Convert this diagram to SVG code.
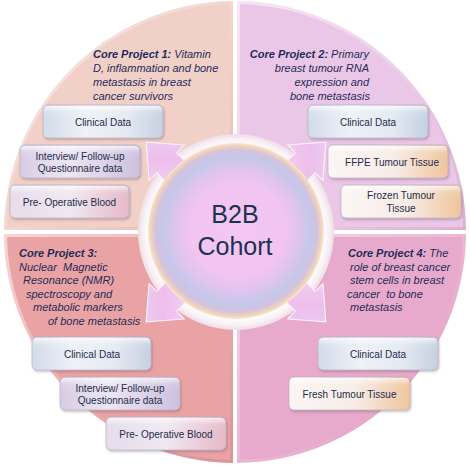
<svg xmlns="http://www.w3.org/2000/svg" width="470" height="467" viewBox="0 0 470 467">
<defs>
<style>
.t{font-family:"Liberation Sans",Arial,sans-serif;font-style:italic;font-size:11px;fill:#1f2c58;white-space:pre}
.t .b{font-weight:bold}
.bx{font-family:"Liberation Sans",Arial,sans-serif;font-size:10px;fill:#1f2c4c;text-anchor:middle}
.c{font-family:"Liberation Sans",Arial,sans-serif;font-size:25px;fill:#1d3152;text-anchor:middle}
.bev{fill:none;stroke:url(#bevel);stroke-width:6}
.box{stroke:#b9b2c6;stroke-width:0.7;filter:url(#sh)}
.hl{fill:url(#gloss)}
.arr{fill:url(#ag);stroke:#fbeefa;stroke-width:1.2;stroke-linejoin:round}
</style>
<filter id="sh" x="-10%" y="-20%" width="125%" height="150%">
<feDropShadow dx="1" dy="1.5" stdDeviation="1.2" flood-color="#5a4050" flood-opacity="0.35"/>
</filter>
<linearGradient id="bevel" x1="0" y1="0" x2="1" y2="1">
<stop offset="0" stop-color="#fff" stop-opacity="0.55"/>
<stop offset="0.5" stop-color="#fff" stop-opacity="0.15"/>
<stop offset="1" stop-color="#804050" stop-opacity="0.15"/>
</linearGradient>
<linearGradient id="gloss" x1="0" y1="0" x2="0" y2="1">
<stop offset="0" stop-color="#fff" stop-opacity="0.7"/>
<stop offset="0.45" stop-color="#fff" stop-opacity="0.1"/>
<stop offset="1" stop-color="#fff" stop-opacity="0"/>
</linearGradient>
<linearGradient id="gClin" x1="0" y1="0" x2="1" y2="0">
<stop offset="0" stop-color="#d3dbea"/>
<stop offset="0.35" stop-color="#eef1f7"/>
<stop offset="0.7" stop-color="#e4e9f2"/>
<stop offset="1" stop-color="#c6d0e2"/>
</linearGradient>
<linearGradient id="gInt" x1="0" y1="0" x2="1" y2="0">
<stop offset="0" stop-color="#d8cce4"/>
<stop offset="0.4" stop-color="#ece6f2"/>
<stop offset="1" stop-color="#cdc0de"/>
</linearGradient>
<linearGradient id="gPre" x1="0" y1="0" x2="1" y2="0">
<stop offset="0" stop-color="#e6dceb"/>
<stop offset="0.5" stop-color="#efe8f1"/>
<stop offset="1" stop-color="#e6b8c8"/>
</linearGradient>
<linearGradient id="gTis" x1="0" y1="0" x2="1" y2="0">
<stop offset="0" stop-color="#fbf6f4"/>
<stop offset="0.55" stop-color="#f7ece6"/>
<stop offset="1" stop-color="#f0c49c"/>
</linearGradient>
<radialGradient id="cg" cx="0.5" cy="0.5" r="0.5" fx="0.52" fy="0.48">
<stop offset="0" stop-color="#f4c6f2"/>
<stop offset="0.55" stop-color="#f1c4f1"/>
<stop offset="0.72" stop-color="#dcc4ee"/>
<stop offset="0.84" stop-color="#c4c8ea"/>
<stop offset="0.92" stop-color="#d4c2de"/>
<stop offset="0.97" stop-color="#f0d4b8"/>
<stop offset="1" stop-color="#f7e6d6"/>
</radialGradient>
<linearGradient id="ag" x1="0" y1="0" x2="1" y2="1">
<stop offset="0" stop-color="#f6d2f4"/>
<stop offset="0.5" stop-color="#eebeec"/>
<stop offset="1" stop-color="#e8d6f2"/>
</linearGradient>
<radialGradient id="rg" cx="0.5" cy="0.5" r="0.5">
<stop offset="0.88" stop-color="#ffffff"/>
<stop offset="0.95" stop-color="#f8f0f4"/>
<stop offset="1" stop-color="#eedde4"/>
</radialGradient>
<clipPath id="cq1"><path id="q1" d="M233,230 L233,1 A231,231 0 0 0 4,230 Z"/></clipPath>
<clipPath id="cq2"><path id="q2" d="M237,230 L237,1 A231,231 0 0 1 466,230 Z"/></clipPath>
<clipPath id="cq3"><path id="q3" d="M233,234 L4,234 A231,231 0 0 0 233,463 Z"/></clipPath>
<clipPath id="cq4"><path id="q4" d="M237,234 L466,234 A231,231 0 0 1 237,463 Z"/></clipPath>
</defs>

<g id="quadrants">
<g id="quadrant1"><use href="#q1" fill="#f1d0c8"/><use href="#q1" class="bev" clip-path="url(#cq1)"/></g>
<g id="quadrant2"><use href="#q2" fill="#ebc7e7"/><use href="#q2" class="bev" clip-path="url(#cq2)"/></g>
<g id="quadrant3"><use href="#q3" fill="#eaa3a4"/><use href="#q3" class="bev" clip-path="url(#cq3)"/></g>
<g id="quadrant4"><use href="#q4" fill="#e8aacc"/><use href="#q4" class="bev" clip-path="url(#cq4)"/></g>
</g>

<g id="ring">
<circle cx="236" cy="232" r="98" fill="url(#rg)"/>
</g>

<g id="connectors">
<polygon class="arr" transform="translate(236,232) rotate(-135)" points="80,-14 98,-14 98,-25 127,0 98,25 98,14 80,14"/>
<polygon class="arr" transform="translate(236,232) rotate(-45)" points="80,-14 98,-14 98,-25 127,0 98,25 98,14 80,14"/>
<polygon class="arr" transform="translate(236,232) rotate(135)" points="80,-14 98,-14 98,-25 127,0 98,25 98,14 80,14"/>
<polygon class="arr" transform="translate(236,232) rotate(45)" points="80,-14 98,-14 98,-25 127,0 98,25 98,14 80,14"/>
</g>

<g id="center">
<circle cx="236" cy="231" r="88" fill="url(#cg)"/>
<text class="c" x="235" y="223">B2B</text>
<text class="c" x="235" y="255">Cohort</text>
</g>

<g id="title1">
<text class="t" x="93" y="58"><tspan class="b">Core Project 1:</tspan> Vitamin</text>
<text class="t" x="93" y="72">D, inflammation and bone</text>
<text class="t" x="93" y="86">metastasis in breast</text>
<text class="t" x="93" y="100">cancer survivors</text>
</g>
<g id="title2">
<text class="t" x="369" y="58" text-anchor="end"><tspan class="b">Core Project 2:</tspan> Primary</text>
<text class="t" x="369" y="72" text-anchor="end">breast tumour RNA</text>
<text class="t" x="369" y="86" text-anchor="end">expression and</text>
<text class="t" x="370" y="100" text-anchor="end">bone metastasis</text>
</g>
<g id="title3">
<text class="t b" x="19" y="257" font-weight="bold">Core Project 3:</text>
<text class="t" x="19" y="270.5">Nuclear  Magnetic</text>
<text class="t" x="23" y="284">Resonance (NMR)</text>
<text class="t" x="26" y="297.5">spectroscopy and</text>
<text class="t" x="33" y="311">metabolic markers</text>
<text class="t" x="48" y="324.5">of bone metastasis</text>
</g>
<g id="title4">
<text class="t" x="348" y="257"><tspan class="b">Core Project 4:</tspan> The</text>
<text class="t" x="350" y="270.5">role of breast cancer</text>
<text class="t" x="350" y="284">stem cells in breast</text>
<text class="t" x="347" y="297.5">cancer  to bone</text>
<text class="t" x="350" y="311">metastasis</text>
</g>

<g id="box-1-clinical"><rect class="box" x="43" y="105" width="120" height="33" rx="5" fill="url(#gClin)"/><rect class="hl" x="44" y="106" width="118" height="14" rx="4"/><text class="bx" x="103" y="125.5">Clinical Data</text></g>
<g id="box-1-interview"><rect class="box" x="20" y="145" width="120" height="33" rx="5" fill="url(#gInt)"/><rect class="hl" x="21" y="146" width="118" height="14" rx="4"/><text class="bx" x="80" y="160">Interview/ Follow-up</text><text class="bx" x="80" y="172">Questionnaire data</text></g>
<g id="box-1-blood"><rect class="box" x="10" y="185" width="119" height="33" rx="5" fill="url(#gPre)"/><rect class="hl" x="11" y="186" width="117" height="14" rx="4"/><text class="bx" x="69.5" y="205.5">Pre- Operative Blood</text></g>

<g id="box-2-clinical"><rect class="box" x="308" y="105" width="120" height="33" rx="5" fill="url(#gClin)"/><rect class="hl" x="309" y="106" width="118" height="14" rx="4"/><text class="bx" x="368" y="125.5">Clinical Data</text></g>
<g id="box-2-ffpe"><rect class="box" x="328" y="145" width="120" height="33" rx="5" fill="url(#gTis)"/><rect class="hl" x="329" y="146" width="118" height="14" rx="4"/><text class="bx" x="392" y="165.5">FFPE Tumour Tissue</text></g>
<g id="box-2-frozen"><rect class="box" x="341" y="185" width="120" height="33" rx="5" fill="url(#gTis)"/><rect class="hl" x="342" y="186" width="118" height="14" rx="4"/><text class="bx" x="401" y="199">Frozen Tumour</text><text class="bx" x="401" y="212">Tissue</text></g>

<g id="box-3-clinical"><rect class="box" x="32" y="337" width="119" height="33" rx="5" fill="url(#gClin)"/><rect class="hl" x="33" y="338" width="117" height="14" rx="4"/><text class="bx" x="92" y="357.5">Clinical Data</text></g>
<g id="box-3-interview"><rect class="box" x="60" y="377" width="120" height="33" rx="5" fill="url(#gInt)"/><rect class="hl" x="61" y="378" width="118" height="14" rx="4"/><text class="bx" x="120" y="392">Interview/ Follow-up</text><text class="bx" x="120" y="404">Questionnaire data</text></g>
<g id="box-3-blood"><rect class="box" x="106" y="417" width="120" height="33" rx="5" fill="url(#gPre)"/><rect class="hl" x="107" y="418" width="118" height="14" rx="4"/><text class="bx" x="166" y="437.5">Pre- Operative Blood</text></g>

<g id="box-4-clinical"><rect class="box" x="318" y="337" width="120" height="33" rx="5" fill="url(#gClin)"/><rect class="hl" x="319" y="338" width="118" height="14" rx="4"/><text class="bx" x="378" y="357.5">Clinical Data</text></g>
<g id="box-4-fresh"><rect class="box" x="289" y="377" width="121" height="33" rx="5" fill="url(#gTis)"/><rect class="hl" x="290" y="378" width="119" height="14" rx="4"/><text class="bx" x="349.5" y="397.5">Fresh Tumour Tissue</text></g>
</svg>
